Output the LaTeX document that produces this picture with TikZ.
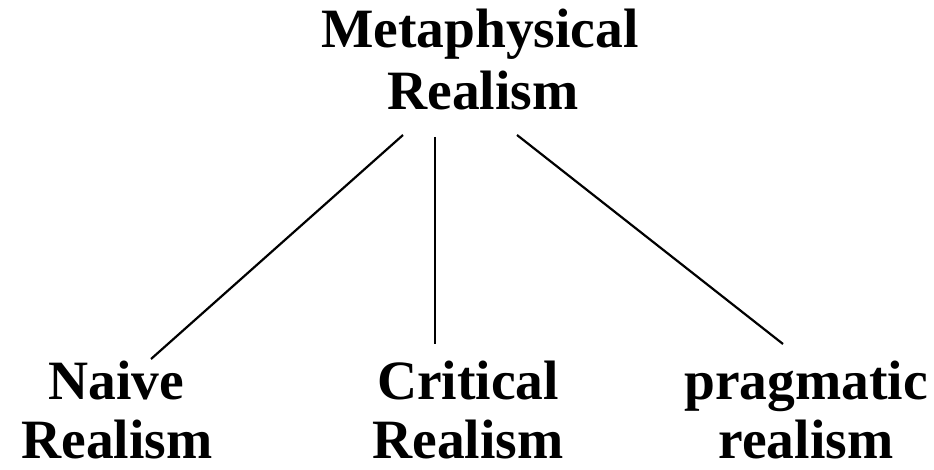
\documentclass[tikz,border=0pt]{standalone}
\usepackage{fontspec}
\setmainfont{Liberation Serif}
\begin{document}
\begin{tikzpicture}[x=1pt,y=-1pt,
  lbl/.style={font=\fontsize{55.5}{62}\selectfont\bfseries, inner sep=0pt, anchor=base},
  link/.style={line width=2.2pt, black}]
\useasboundingbox (0,0) rectangle (934,470);
% top label
\node[lbl] (topA) at (480,48) {Metaphysical};
\node[lbl] (topB) at (483,110) {Realism};
% bottom labels
\node[lbl] (naiveA) at (116,399) {Naive};
\node[lbl] (naiveB) at (117,458) {Realism};
\node[lbl] (critA) at (468,399) {Critical};
\node[lbl] (critB) at (468,458) {Realism};
\node[lbl] (pragA) at (806,399) {pragmatic};
\node[lbl] (pragB) at (806,458) {realism};
% connector ends
\coordinate (sL) at (403,135);
\coordinate (sC) at (435,137);
\coordinate (sR) at (517,135);
\coordinate (eL) at (151,359);
\coordinate (eC) at (435,344);
\coordinate (eR) at (783,344);
\draw[link] (sL) -- (eL);
\draw[link] (sC) -- (eC);
\draw[link] (sR) -- (eR);
\end{tikzpicture}
\end{document}
